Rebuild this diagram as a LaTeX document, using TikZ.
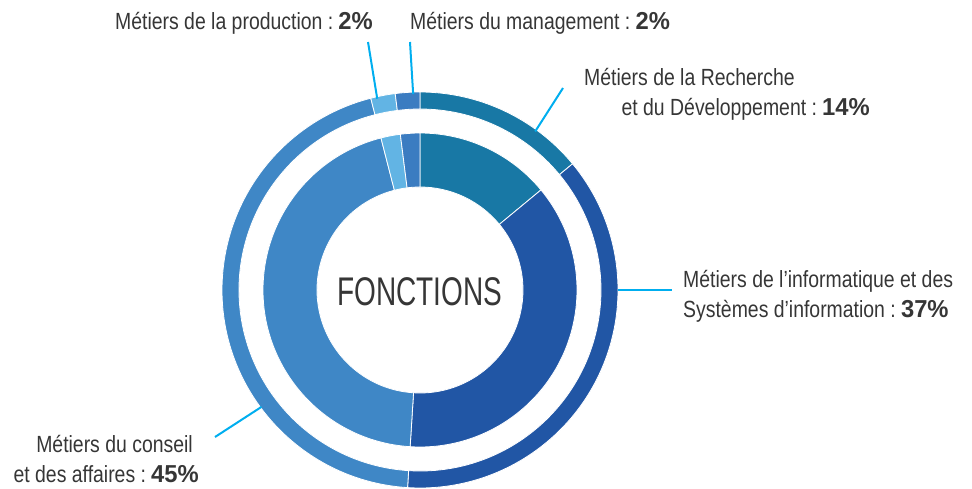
\documentclass[tikz,border=0pt]{standalone}
\usepackage{fontspec}
\setmainfont{Liberation Sans}[FakeStretch=0.83]
\newfontfamily\titlefont{Liberation Sans}[FakeStretch=0.70]
\newfontfamily\pctfont{Liberation Sans Bold}[FakeStretch=0.97]
\newcommand{\pct}[1]{\kern-2pt{\pctfont\fontsize{24.5}{27}\selectfont #1}}
\definecolor{rd}{HTML}{1878A5}
\definecolor{info}{HTML}{2156A5}
\definecolor{conseil}{HTML}{3F87C6}
\definecolor{prod}{HTML}{62B4E4}
\definecolor{mgmt}{HTML}{3B7CC1}
\definecolor{leader}{HTML}{00AEEF}
\definecolor{txt}{HTML}{363636}
\tikzset{
  lbl/.style={inner sep=0pt, text=txt, font=\fontsize{23.4}{28}\selectfont},
  lead/.style={draw=leader, line width=2pt},
  seg/.style={draw=white, line width=0.8pt},
}
\newcommand{\wedgeseg}[5]{% color, a1, a2, r1, r2
  \filldraw[seg, fill=#1] (#2:#4) arc[start angle=#2, end angle=#3, radius=#4] -- (#3:#5) arc[start angle=#3, end angle=#2, radius=#5] -- cycle;}
\begin{document}
\begin{tikzpicture}[x=1pt, y=-1pt]
\useasboundingbox (0,0) rectangle (972,488);
\begin{scope}[shift={(420,290)}, yscale=-1]
  % outer ring
  \wedgeseg{rd}{90}{39.6}{198}{181}
  \wedgeseg{info}{39.6}{-93.6}{198}{181}
  \wedgeseg{conseil}{-93.6}{-255.6}{198}{181}
  \wedgeseg{prod}{-255.6}{-262.8}{198}{181}
  \wedgeseg{mgmt}{-262.8}{-270}{198}{181}
  % inner donut
  \wedgeseg{rd}{90}{39.6}{157}{103}
  \wedgeseg{info}{39.6}{-93.6}{157}{103}
  \wedgeseg{conseil}{-93.6}{-255.6}{157}{103}
  \wedgeseg{prod}{-255.6}{-262.8}{157}{103}
  \wedgeseg{mgmt}{-262.8}{-270}{157}{103}
  % leader anchors on the outer ring
  \coordinate (pP) at (102.6:196);
  \coordinate (pM) at (92:196);
  \coordinate (pR) at (54:196);
  \coordinate (pI) at (0:198);
  \coordinate (pC) at (216.4:197);
\end{scope}
\node[inner sep=0pt, text=txt, font=\titlefont\fontsize{40}{40}\selectfont] (title) at (420,292) {FONCTIONS};
% free ends of leaders
\coordinate (eP) at (368,42);
\coordinate (eM) at (410,42);
\coordinate (eR) at (563,88);
\coordinate (eI) at (672,290);
\coordinate (eC) at (215,437);
\draw[lead] (pP) -- (eP);
\draw[lead] (pM) -- (eM);
\draw[lead] (pR) -- (eR);
\draw[lead] (pI) -- (eI);
\draw[lead] (pC) -- (eC);
% labels
\node[lbl, anchor=base east] (tP) at (373,29) {Métiers de la production : \pct{2\%}};
\node[lbl, anchor=base west] (tM) at (410,29) {Métiers du management : \pct{2\%}};
\node[lbl, anchor=base west] (tR1) at (584,85) {Métiers de la Recherche};
\node[lbl, anchor=base east] (tR2) at (870,115) {et du Développement : \pct{14\%}};
\node[lbl, anchor=base west] (tI1) at (683,287) {Métiers de l’informatique et des};
\node[lbl, anchor=base west] (tI2) at (683,317) {Systèmes d’information : \pct{37\%}};
\node[lbl, anchor=base east] (tC1) at (193,452) {Métiers du conseil};
\node[lbl, anchor=base east] (tC2) at (199,482) {et des affaires : \pct{45\%}};
\end{tikzpicture}
\end{document}
